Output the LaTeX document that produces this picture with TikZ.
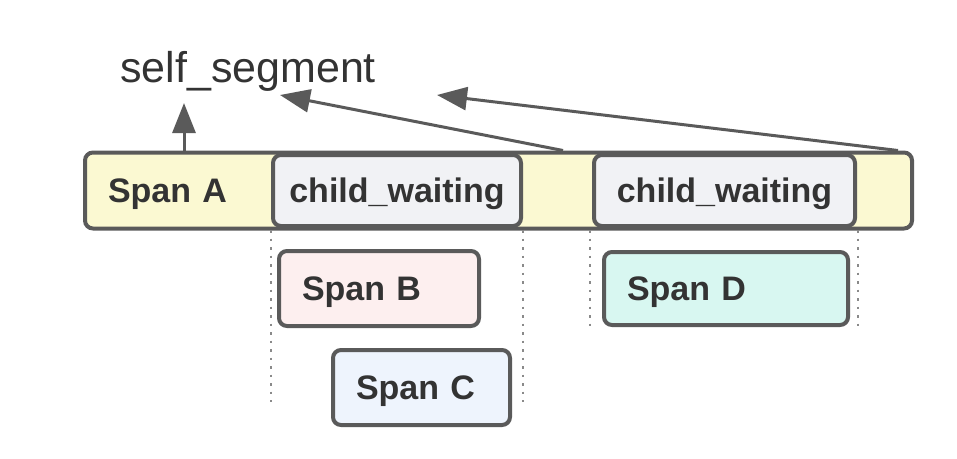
\documentclass[tikz,border=0pt]{standalone}
\usepackage{fontspec}
\setmainfont{Liberation Sans}
\usetikzlibrary{arrows.meta}
\definecolor{edge}{HTML}{5A5A5A}
\definecolor{ink}{HTML}{333333}
\definecolor{yelA}{HTML}{FBF9D2}
\definecolor{greyW}{HTML}{F1F2F5}
\definecolor{pinkB}{HTML}{FDEFEF}
\definecolor{blueC}{HTML}{EEF4FD}
\definecolor{tealD}{HTML}{D8F7F1}
\definecolor{guidegrey}{HTML}{8A8A8A}
\tikzset{
  spanbox/.style={draw=edge, line width=4pt, rounded corners=8pt, inner xsep=23pt, inner ysep=0pt,
    text=ink, font=\fontsize{34}{40}\selectfont\bfseries, align=left, text height=24.5pt, text depth=0pt},
  waitbox/.style={draw=edge, line width=4pt, rounded corners=8pt, fill=greyW, inner sep=0pt,
    text=ink, font=\fontsize{34}{40}\selectfont\bfseries, text height=24.5pt, text depth=0pt},
  arr/.style={draw=edge, line width=3pt, -{Triangle[length=30pt,width=23pt]}},
  guide/.style={draw=guidegrey, line width=2pt, dash pattern=on 2.5pt off 6pt}
}
\begin{document}
\begin{tikzpicture}[x=1pt,y=-1pt]
\useasboundingbox (0,0) rectangle (957,458);
% main span
\node[spanbox, fill=yelA, text width=781pt, minimum height=76pt] (spanA) at (498.5,190.5) {Span A};
\node[waitbox, minimum width=248pt, minimum height=71pt] (cw1) at (397,190.5) {child\_waiting};
\node[waitbox, minimum width=261pt, minimum height=71pt] (cw2) at (724.5,190.5) {child\_waiting};
% guides
\draw[guide] (cw1.south west) ++(0,2) -- ++(0,172);
\draw[guide] (cw1.south east) ++(0,2) -- ++(0,172);
\draw[guide] (cw2.south west) ++(-2,2) -- ++(0,96);
\draw[guide] (cw2.south east) ++(1,2) -- ++(0,96);
% children
\node[spanbox, fill=pinkB, text width=154pt, minimum height=75pt] (spanB) at (379,288.5) {Span B};
\node[spanbox, fill=blueC, text width=131pt, minimum height=75pt] (spanC) at (421.5,387.5) {Span C};
\node[spanbox, fill=tealD, text width=198pt, minimum height=73pt] (spanD) at (726,288.5) {Span D};
% label
\node[anchor=base west, inner sep=0pt, text=ink, font=\fontsize{43}{50}\selectfont] (seg) at (120,82) {self\_segment};
% arrows
\coordinate (t1) at (184,103);
\coordinate (s2) at (563,0);
\coordinate (t2) at (280,95);
\coordinate (s3) at (898,0);
\coordinate (t3) at (437,95);
\draw[arr] (t1 |- spanA.north) -- (t1);
\draw[arr] (s2 |- spanA.north) -- (t2);
\draw[arr] (s3 |- spanA.north) -- (t3);
\end{tikzpicture}
\end{document}
